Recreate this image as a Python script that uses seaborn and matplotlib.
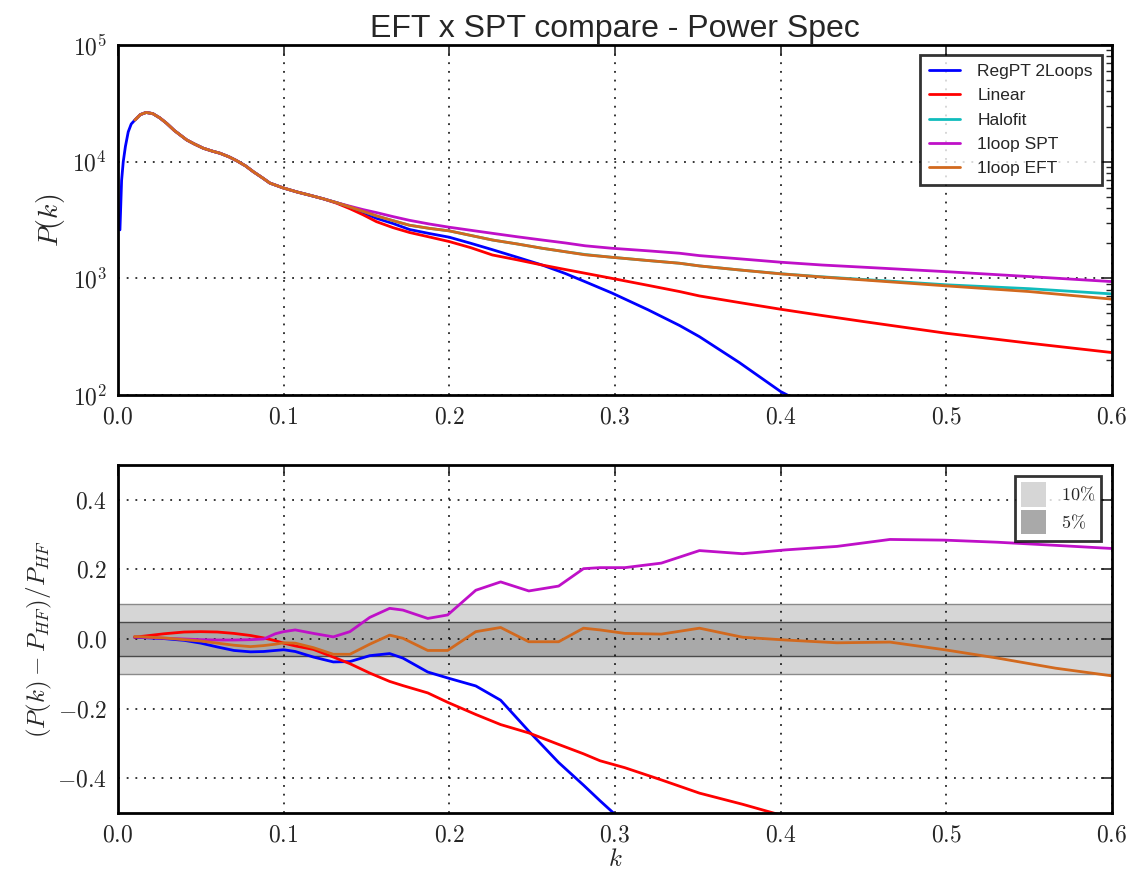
import numpy as np
import pandas as pd
import matplotlib
matplotlib.use("Agg")
import matplotlib.pyplot as plt
import seaborn as sns
from matplotlib.ticker import FuncFormatter, FixedLocator, LogLocator, NullFormatter, NullLocator
from matplotlib.patches import Patch
from matplotlib.lines import Line2D

# ---------------- data: top panel P(k) ----------------
series_names = ["RegPT 2Loops", "Linear", "Halofit", "1loop SPT", "1loop EFT"]
series_colors = ["#0000ff", "#ff0000", "#10bcbc", "#bf10c8", "#d2691e"]

# low-k part only visible for RegPT
k_blue_lo = [0.0012, 0.0022, 0.0032, 0.0045, 0.0062, 0.0080]
P_blue_lo = [2600, 6900, 10000, 13500, 18000, 21000]

# shared part (curves overlap)
k_common = [0.0103, 0.0135, 0.0170, 0.0210, 0.0253, 0.0294, 0.0340, 0.0374, 0.0415,
            0.0460, 0.0515, 0.0570, 0.0616, 0.0670, 0.0716, 0.0770, 0.0817, 0.0870,
            0.0917, 0.0998, 0.1080, 0.1159, 0.1240]
P_common = [22800, 25300, 26400, 25800, 23700, 21300, 18500, 17000, 15350,
            14200, 13030, 12300, 11800, 11000, 10200, 9200, 8200, 7300,
            6550, 5950, 5500, 5150, 4800]

# diverging part
k_hi = [0.132, 0.140, 0.148, 0.156, 0.166, 0.176, 0.188, 0.200, 0.213, 0.226, 0.241,
        0.256, 0.270, 0.282, 0.298, 0.320, 0.339, 0.351, 0.375, 0.400, 0.425, 0.450,
        0.500, 0.550, 0.600]
P_regpt = [4450, 4080, 3650, 3270, 2950, 2620, 2420, 2250, 1995, 1760, 1515,
           1300, 1100, 935, 750, 537, 394, 316, 190, 107, 70]
P_linear = [4400, 3950, 3500, 3060, 2720, 2470, 2260, 2065, 1830, 1585, 1440,
            1300, 1190, 1105, 1000, 870, 770, 706, 620, 543, 480, 426,
            338, 278, 231]
P_halofit = [4450, 4100, 3750, 3430, 3120, 2850, 2680, 2550, 2330, 2130, 1970,
             1810, 1690, 1600, 1515, 1420, 1346, 1277, 1180, 1095, 1030, 978,
             880, 815, 735]
P_spt = [4450, 4150, 3880, 3660, 3380, 3140, 2920, 2740, 2580, 2430, 2270,
         2130, 2010, 1900, 1810, 1720, 1640, 1565, 1470, 1374, 1300, 1245,
         1140, 1035, 937]
P_eft = [4450, 4100, 3750, 3430, 3120, 2850, 2680, 2550, 2330, 2130, 1970,
         1810, 1690, 1590, 1515, 1420, 1346, 1277, 1180, 1092, 1025, 968,
         861, 770, 663]

# ---------------- data: bottom panel ratio ----------------
k_ratio = [0.010, 0.028, 0.040, 0.050, 0.060, 0.070, 0.080, 0.088, 0.095, 0.100,
           0.107, 0.118, 0.130, 0.140, 0.152, 0.164, 0.172, 0.187, 0.199, 0.216,
           0.231, 0.248, 0.266, 0.281, 0.291, 0.306, 0.328, 0.351, 0.377, 0.403,
           0.434, 0.466, 0.499, 0.531, 0.566, 0.600]
r_regpt = [0.005, 0.001, -0.004, -0.012, -0.023, -0.033, -0.037, -0.036, -0.033, -0.031,
           -0.036, -0.052, -0.066, -0.065, -0.048, -0.042, -0.055, -0.095, -0.112, -0.135,
           -0.176, -0.265, -0.355, -0.420, -0.465, -0.530]
r_linear = [0.005, 0.015, 0.020, 0.021, 0.020, 0.016, 0.010, 0.003, -0.005, -0.012,
            -0.020, -0.030, -0.052, -0.071, -0.098, -0.122, -0.134, -0.155, -0.182, -0.217,
            -0.246, -0.270, -0.303, -0.330, -0.350, -0.370, -0.405, -0.443, -0.475, -0.510]
r_spt = [0.006, 0.002, 0.000, -0.002, -0.003, -0.003, -0.002, 0.000, 0.015, 0.021,
         0.026, 0.016, 0.006, 0.021, 0.062, 0.088, 0.083, 0.059, 0.069, 0.140,
         0.164, 0.138, 0.152, 0.202, 0.205, 0.205, 0.218, 0.254, 0.245, 0.256,
         0.266, 0.286, 0.284, 0.278, 0.269, 0.260]
r_eft = [0.007, 0.003, -0.002, -0.006, -0.012, -0.018, -0.022, -0.019, -0.015, -0.011,
         -0.012, -0.025, -0.044, -0.044, -0.015, 0.011, 0.002, -0.033, -0.033, 0.021,
         0.033, -0.008, -0.008, 0.031, 0.026, 0.016, 0.014, 0.031, 0.005, -0.003,
         -0.011, -0.009, -0.031, -0.055, -0.084, -0.106]
band_labels = ["10%", "5%"]
band_levels = [0.10, 0.05]

# ---------------- build tables ----------------
top_rows = []
def add_top(name, ks, ps):
    for k, p in zip(ks, ps):
        top_rows.append((name, k, p))

add_top("RegPT 2Loops", k_blue_lo + k_common + k_hi[:len(P_regpt)], P_blue_lo + P_common + P_regpt)
add_top("Linear", k_common + k_hi, P_common + P_linear)
add_top("Halofit", k_common + k_hi, P_common + P_halofit)
add_top("1loop SPT", k_common + k_hi, P_common + P_spt)
add_top("1loop EFT", k_common + k_hi, P_common + P_eft)
df_top = pd.DataFrame(top_rows, columns=["series", "k", "P"])

bot_rows = []
for name, vals in [("RegPT 2Loops", r_regpt), ("Linear", r_linear),
                   ("1loop SPT", r_spt), ("1loop EFT", r_eft)]:
    for k, v in zip(k_ratio[:len(vals)], vals):
        bot_rows.append((name, k, v))
df_bot = pd.DataFrame(bot_rows, columns=["series", "k", "r"])

# ---------------- style ----------------
sns.set_style("white")
plt.rcParams.update({
    "mathtext.fontset": "cm",
    "font.family": ["Liberation Sans", "DejaVu Sans"],
    "axes.linewidth": 2.0,
    "xtick.direction": "in", "ytick.direction": "in",
    "xtick.top": True, "ytick.right": True,
    "xtick.major.size": 8, "ytick.major.size": 8,
    "ytick.minor.size": 4, "xtick.minor.size": 4,
    "xtick.major.width": 1.2, "ytick.major.width": 1.2,
    "ytick.minor.width": 1.0,
    "axes.edgecolor": "black",
})

palette = dict(zip(series_names, series_colors))

fig = plt.figure(figsize=(11.32, 8.75), dpi=100)
ax1 = fig.add_axes([0.1042, 0.5486, 0.8781, 0.4000])
ax2 = fig.add_axes([0.1042, 0.0709, 0.8781, 0.3977])

grid_kw = dict(color="black", linestyle=(0, (1.2, 4.5)), linewidth=1.1)

# ---- top ----
ax1.set_yscale("log")
sns.lineplot(data=df_top, x="k", y="P", hue="series", hue_order=series_names,
             palette=palette, estimator=None, sort=False, linewidth=2.0,
             legend=False, ax=ax1)
ax1.set_xlim(0, 0.6)
ax1.set_ylim(1e2, 1e5)
ax1.set_axisbelow("line")
ax1.grid(True, which="major", **grid_kw)
ax1.xaxis.set_major_locator(FixedLocator([0.0, 0.1, 0.2, 0.3, 0.4, 0.5, 0.6]))
ax1.xaxis.set_major_formatter(FuncFormatter(lambda v, p: r"$%.1f$" % v))
ax1.yaxis.set_major_locator(FixedLocator([1e2, 1e3, 1e4, 1e5]))
ax1.yaxis.set_major_formatter(FuncFormatter(lambda v, p: r"$10^{%d}$" % int(round(np.log10(v)))))
ax1.yaxis.set_minor_locator(LogLocator(base=10, subs=np.arange(2, 10)))
ax1.yaxis.set_minor_formatter(NullFormatter())
ax1.tick_params(labelsize=17, pad=8)
ax1.set_xlabel("")
ax1.set_ylabel(r"$P(k)$", fontsize=20, labelpad=4)
ax1.set_title("EFT x SPT compare - Power Spec", fontsize=23, pad=6)

handles = [Line2D([], [], color=c, lw=2.0) for c in series_colors]
leg1 = ax1.legend(handles, series_names, loc="upper right", fontsize=12.5,
                  frameon=True, fancybox=False, handlelength=1.8, handletextpad=1.0,
                  labelspacing=0.52, borderpad=0.5, borderaxespad=0.6)
leg1.get_frame().set_edgecolor("black")
leg1.get_frame().set_linewidth(2.0)

# ---- bottom ----
ax2.fill_between([0, 0.6], [-band_levels[0]] * 2, [band_levels[0]] * 2,
                 facecolor="#d6d6d6", edgecolor="#8a8a8a", linewidth=1.0, zorder=0.5)
ax2.fill_between([0, 0.6], [-band_levels[1]] * 2, [band_levels[1]] * 2,
                 facecolor="#a9a9a9", edgecolor="#4a4a4a", linewidth=1.0, zorder=0.6)
sns.lineplot(data=df_bot, x="k", y="r", hue="series",
             hue_order=["RegPT 2Loops", "Linear", "1loop SPT", "1loop EFT"],
             palette=palette, estimator=None, sort=False, linewidth=2.0,
             legend=False, ax=ax2)
ax2.set_xlim(0, 0.6)
ax2.set_ylim(-0.5, 0.5)
ax2.set_axisbelow("line")
ax2.grid(True, which="major", **grid_kw)
ax2.xaxis.set_major_locator(FixedLocator([0.0, 0.1, 0.2, 0.3, 0.4, 0.5, 0.6]))
ax2.xaxis.set_major_formatter(FuncFormatter(lambda v, p: r"$%.1f$" % v))
ax2.yaxis.set_major_locator(FixedLocator([-0.4, -0.2, 0.0, 0.2, 0.4]))
ax2.yaxis.set_major_formatter(FuncFormatter(lambda v, p: r"$%.1f$" % (0.0 if abs(v) < 1e-9 else v)))
ax2.yaxis.set_minor_locator(NullLocator())
ax2.tick_params(labelsize=17, pad=8)
ax2.set_xlabel(r"$k$", fontsize=18, labelpad=1)
ax2.set_ylabel(r"$(P(k)-P_{HF})/P_{HF}$", fontsize=18, labelpad=2)

band_handles = [Patch(facecolor="#d6d6d6", edgecolor="none"),
                Patch(facecolor="#a9a9a9", edgecolor="none")]
leg2 = ax2.legend(band_handles, [r"$10\%$", r"$5\%$"], loc="upper right", fontsize=13,
                  frameon=True, fancybox=False, handlelength=1.4, handleheight=1.7,
                  labelspacing=0.2, borderpad=0.35, borderaxespad=0.6)
leg2.get_frame().set_edgecolor("black")
leg2.get_frame().set_linewidth(2.0)

fig.savefig("out.png", dpi=100)
